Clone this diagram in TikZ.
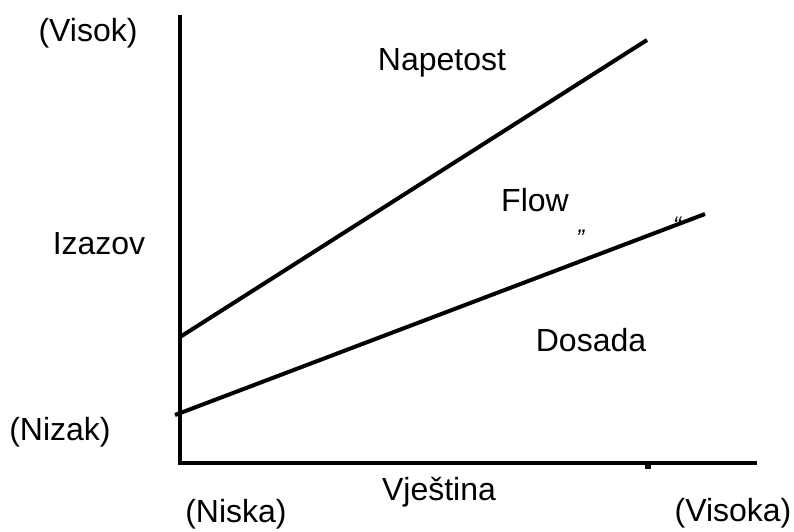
\documentclass[tikz,border=0pt]{standalone}
\usepackage{fontspec}
\setmainfont{Liberation Sans}
\usepackage{tikz}
\usetikzlibrary{positioning}
\usetikzlibrary{calc}

\begin{document}
\begin{tikzpicture}[
        x=1pt, y=-1pt,
        axis/.style={line width=4.5pt},
        zone/.style={line width=4pt},
        lbl/.style={font=\fontsize{32}{36}\selectfont, inner sep=0pt},
        qmark/.style={font=\fontsize{24}{26}\selectfont\itshape, inner sep=0pt}
    ]
    \useasboundingbox (0,0) rectangle (794,531);

    % ------- axes -------
    \coordinate (top) at (180,15);
    \coordinate (origin) at (180,463);
    \coordinate (right) at (757,463);
    \draw[axis] (top) -- (origin.center) -- (right);
    \draw[line width=6pt] (648,463) -- (648,469);

    % ------- zone borders -------
    \coordinate (u1) at (180,337);
    \coordinate (u2) at (647,40);
    \coordinate (l1) at (175,415);
    \coordinate (l2) at (705,214);
    \draw[zone] (u1) -- (u2);
    \draw[zone] (l1) -- (l2);

    % ------- labels -------
    \node[lbl] (visok) at (88,33) {(Visok)};
    \node[lbl] (izazov) at (99,244) {Izazov};
    \node[lbl] (nizak) at (60,432) {(Nizak)};
    \node[lbl] (napetost) at (442,63) {Napetost};
    \node[lbl] (flow) at (535,200) {Flow};
    \node[lbl] (dosada) at (591,340) {Dosada};
    \node[lbl] (vjestina) at (439,492) {Vještina};
    \node[lbl] (niska) at (236,514) {(Niska)};
    \node[lbl] (visoka) at (733,513) {(Visoka)};
    \node[qmark] (q1) at (580,238) {”};
    \node[qmark] (q2) at (677,225) {“};

\end{tikzpicture}
\end{document}
